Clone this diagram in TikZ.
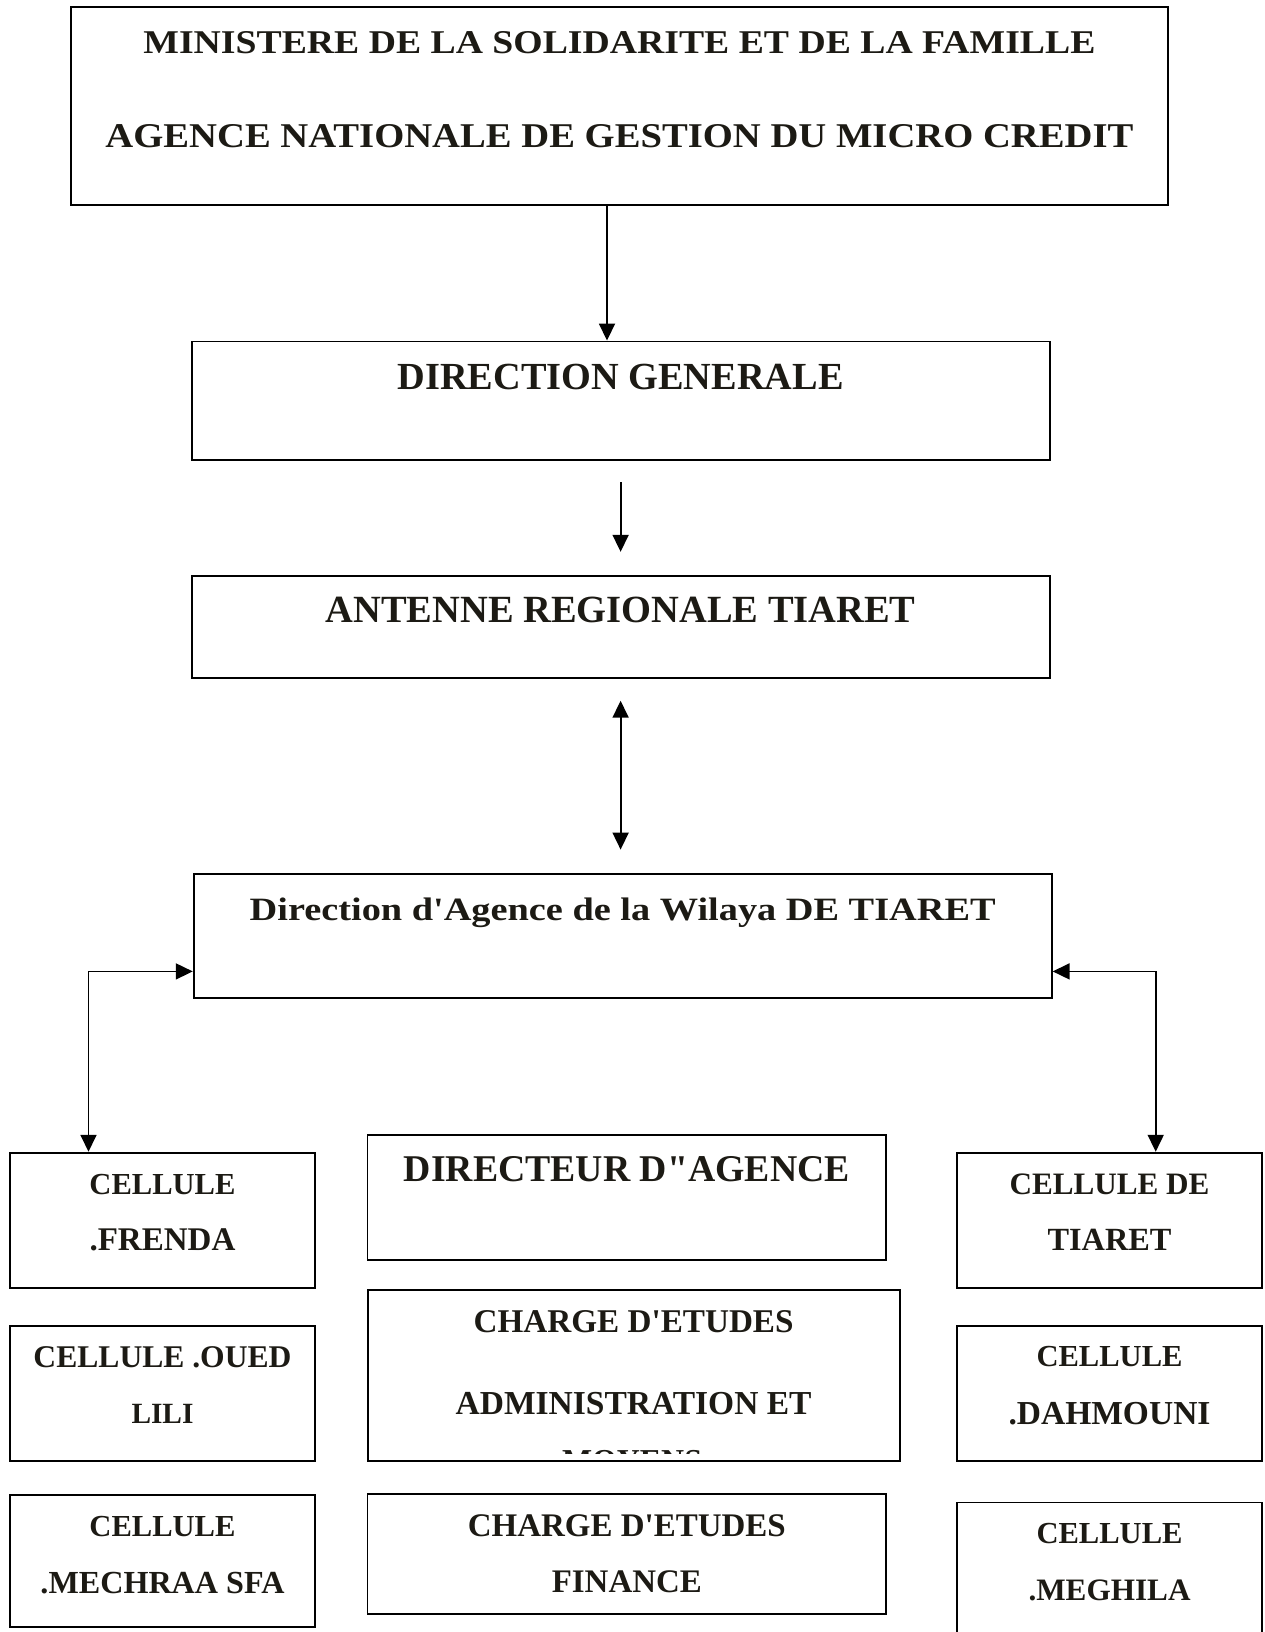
\documentclass[tikz,border=0pt]{standalone}
\usepackage{fontspec}
\setmainfont{Liberation Serif}[Ligatures=TeXOff]
\usetikzlibrary{arrows.meta}
\definecolor{ink}{RGB}{28,26,20}
\newcommand\fitw[2]{\resizebox{#1}{!}{#2}}
\newcommand\fitwh[3]{\resizebox{#1}{#2}{#3}}
\begin{document}
\begin{tikzpicture}[x=0.5pt,y=-0.5pt,
  box/.style={draw=black,line width=0.95pt,inner sep=0pt,rectangle},
  lbl/.style={inner sep=0pt,text=ink,font=\bfseries},
  conn/.style={line width=0.9pt,-{Triangle[length=8.5pt,width=8pt]}},
  conntwo/.style={line width=0.9pt,{Triangle[length=8.5pt,width=8pt]}-{Triangle[length=8.5pt,width=8pt]}}]
\useasboundingbox (0,0) rectangle (1264,1632);
\clip (0,0) rectangle (1264,1632);

% boxes
\node[box,minimum width=548.7pt,minimum height=98.9pt] (top) at (619.5,106.2) {};
\node[box,minimum width=429pt,minimum height=59.4pt] (dg) at (620.6,400.9) {};
\node[box,minimum width=429pt,minimum height=51pt] (ant) at (620.6,626.8) {};
\node[box,minimum width=429pt,minimum height=62pt] (da) at (622.7,935.6) {};

\node[box,minimum width=152.5pt,minimum height=67.8pt] (frenda) at (162.5,1220.5) {};
\node[box,minimum width=152.5pt,minimum height=67.5pt] (oued) at (162.5,1393.2) {};
\node[box,minimum width=152.5pt,minimum height=65.9pt] (mech) at (162.5,1560.9) {};

\node[box,minimum width=152.2pt,minimum height=67.8pt] (tiaret) at (1109.5,1220.5) {};
\node[box,minimum width=152.2pt,minimum height=67.5pt] (dahm) at (1109.5,1393.2) {};
\node[box,minimum width=152.2pt,minimum height=78.5pt] (megh) at (1109.5,1581) {};

\node[box,minimum width=259.3pt,minimum height=62.5pt] (dir) at (626.8,1197.4) {};
\node[box,minimum width=266pt,minimum height=85.4pt] (adm) at (633.6,1375.4) {};
\node[box,minimum width=259.3pt,minimum height=59.9pt] (fin) at (626.8,1554) {};

% texts
\node[lbl] (t1) at (619.5,42.5) {\fitwh{476pt}{11pt}{MINISTERE DE LA SOLIDARITE ET DE LA FAMILLE}};
\node[lbl] (t2) at (619.5,136) {\fitwh{514pt}{11.5pt}{AGENCE NATIONALE DE GESTION DU MICRO CREDIT}};
\node[lbl] (tdg) at (620.6,377) {\fitw{223pt}{DIRECTION GENERALE}};
\node[lbl] (tant) at (620.6,610.1) {\fitw{295pt}{ANTENNE REGIONALE TIARET}};
\node[lbl,anchor=base] (tda) at (622.7,920) {\fitwh{373pt}{11.3pt}{Direction d'Agence de la Wilaya DE TIARET}};

\node[lbl] (tf1) at (162.5,1184.5) {\fitw{73pt}{CELLULE}};
\node[lbl] (tf2) at (162.5,1240) {\fitw{73pt}{.FRENDA}};
\node[lbl] (to1) at (162.5,1357) {\fitw{129pt}{CELLULE .OUED}};
\node[lbl] (to2) at (162.5,1414) {\fitw{31pt}{LILI}};
\node[lbl] (tm1) at (162.5,1526.7) {\fitw{73pt}{CELLULE}};
\node[lbl] (tm2) at (162.5,1583.3) {\fitw{122pt}{.MECHRAA SFA}};

\node[lbl] (tt1) at (1109.5,1184.5) {\fitw{100pt}{CELLULE DE}};
\node[lbl] (tt2) at (1109.5,1240) {\fitw{62pt}{TIARET}};
\node[lbl] (td1) at (1109.5,1357) {\fitw{73pt}{CELLULE}};
\node[lbl] (td2) at (1109.5,1414) {\fitw{101pt}{.DAHMOUNI}};
\node[lbl] (tg1) at (1109.5,1534) {\fitw{73pt}{CELLULE}};
\node[lbl] (tg2) at (1109.5,1590.7) {\fitw{81pt}{.MEGHILA}};

\node[lbl] (tdir) at (626.8,1169.3) {\fitw{223pt}{DIRECTEUR D"AGENCE}};
\node[lbl] (ta1) at (633.6,1321.5) {\fitw{160pt}{CHARGE D'ETUDES}};
\node[lbl] (ta2) at (633.6,1404) {\fitw{178pt}{ADMINISTRATION ET}};
\begin{scope}
  \clip (372,1448) rectangle (895,1453);
  \node[lbl,anchor=north] (ta3) at (632,1449.5) {\fitw{70pt}{MOYENS}};
\end{scope}
\node[lbl] (tfi1) at (626.8,1525.4) {\fitw{159pt}{CHARGE D'ETUDES}};
\node[lbl] (tfi2) at (626.8,1581.6) {\fitw{75pt}{FINANCE}};

% connectors
\draw[conn] ([xshift=-6.25pt]top.south) -- ([xshift=-6.25pt]top.south |- dg.north);
\coordinate (a2s) at (620.6,482);
\coordinate (a2e) at (620.6,551.8);
\draw[conn] (a2s) -- (a2e);
\coordinate (a3s) at (620.6,700.7);
\coordinate (a3e) at (620.6,849.6);
\draw[conntwo] (a3s) -- (a3e);
\draw[conntwo] ([yshift=-17.9pt]da.west) -| ([xshift=-37pt]frenda.north);
\draw[conntwo] ([yshift=-17.9pt]da.east) -| ([xshift=23.1pt]tiaret.north);
\end{tikzpicture}
\end{document}
